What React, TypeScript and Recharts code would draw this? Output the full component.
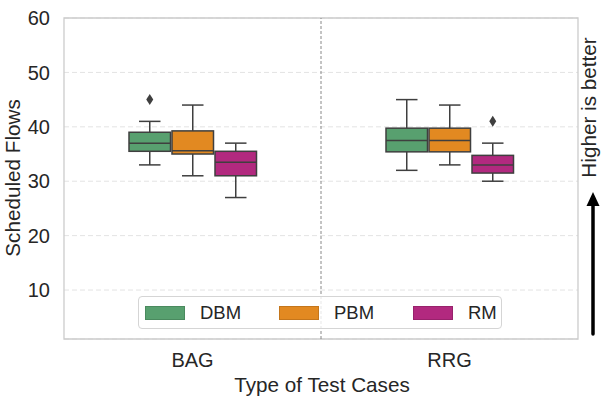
import React from 'react';
import {
  ComposedChart,
  Bar,
  XAxis,
  YAxis,
  CartesianGrid,
  ReferenceLine,
  ReferenceArea,
} from 'recharts';

const categories = ['BAG', 'RRG'];
const seriesNames = ['DBM', 'PBM', 'RM'];
const seriesColors = ['#58a06f', '#e28921', '#b2297f'];
const seriesEdges = ['#4a8a5e', '#c4761c', '#98226c'];
const yTicks = [10, 20, 30, 40, 50, 60];

// box statistics per category (BAG, RRG)
const dbmLow = [33, 32];
const dbmQ1 = [35.5, 35.4];
const dbmMed = [37, 37.5];
const dbmQ3 = [39, 39.75];
const dbmHigh = [41, 45];
const dbmOut = [[45], []];

const pbmLow = [31, 33];
const pbmQ1 = [35, 35.4];
const pbmMed = [35.6, 37.5];
const pbmQ3 = [39.25, 39.75];
const pbmHigh = [44, 44];
const pbmOut = [[], []];

const rmLow = [27, 30];
const rmQ1 = [31, 31.5];
const rmMed = [33.5, 33];
const rmQ3 = [35.5, 34.75];
const rmHigh = [37, 37];
const rmOut = [[], [41]];

const stats = {
  DBM: { lo: dbmLow, q1: dbmQ1, med: dbmMed, q3: dbmQ3, hi: dbmHigh, out: dbmOut },
  PBM: { lo: pbmLow, q1: pbmQ1, med: pbmMed, q3: pbmQ3, hi: pbmHigh, out: pbmOut },
  RM: { lo: rmLow, q1: rmQ1, med: rmMed, q3: rmQ3, hi: rmHigh, out: rmOut },
};

const rows = categories.map((cat, i) => {
  const row: any = { cat, pos: i + 0.5 };
  seriesNames.forEach((n) => {
    const s = (stats as any)[n];
    row[n] = { lo: s.lo[i], q1: s.q1[i], med: s.med[i], q3: s.q3[i], hi: s.hi[i], out: s.out[i] };
  });
  return row;
});

const EDGE = '#3f3f3f';
const FONT = '"Liberation Sans", Arial, Helvetica, sans-serif';
const TEXT = '#262626';

function makeBoxShape(name: string) {
  return (props: any) => {
    const { x, y, width, height, payload, fill } = props;
    const s = payload[name];
    const top = Math.min(y, y + height);
    const bot = Math.max(y, y + height);
    const py = (v: number) => bot - ((v - s.lo) / (s.hi - s.lo)) * (bot - top);
    const cx = x + width / 2;
    const cap = width / 4;
    return (
      <g>
        <line x1={cx} x2={cx} y1={py(s.hi)} y2={py(s.q3)} stroke={EDGE} strokeWidth={1.5} />
        <line x1={cx} x2={cx} y1={py(s.q1)} y2={py(s.lo)} stroke={EDGE} strokeWidth={1.5} />
        <line x1={cx - cap} x2={cx + cap} y1={py(s.hi)} y2={py(s.hi)} stroke={EDGE} strokeWidth={1.5} />
        <line x1={cx - cap} x2={cx + cap} y1={py(s.lo)} y2={py(s.lo)} stroke={EDGE} strokeWidth={1.5} />
        <rect
          x={x + 0.75}
          y={py(s.q3)}
          width={width - 1.5}
          height={py(s.q1) - py(s.q3)}
          fill={fill}
          stroke={EDGE}
          strokeWidth={1.5}
        />
        <line x1={x + 0.75} x2={x + width - 0.75} y1={py(s.med)} y2={py(s.med)} stroke={EDGE} strokeWidth={1.5} />
        {s.out.map((o: number, k: number) => {
          const oy = py(o);
          return (
            <path
              key={k}
              d={`M${cx},${oy - 5.5} L${cx + 3.5},${oy} L${cx},${oy + 5.5} L${cx - 3.5},${oy} Z`}
              fill={EDGE}
            />
          );
        })}
      </g>
    );
  };
}

export default function App() {
  return (
    <div
      style={{
        position: 'absolute',
        left: 0,
        top: 0,
        width: 603,
        height: 408,
        fontFamily: FONT,
        background: '#fff',
      }}
    >
      <ComposedChart
        width={603}
        height={408}
        data={rows}
        margin={{ top: 18, right: 25, left: 0, bottom: 29 }}
        barCategoryGap="25%"
        barGap={0}
      >
        <CartesianGrid horizontal vertical={false} stroke="#e3e3e3" strokeDasharray="5 3" />
        <XAxis
          dataKey="cat"
          height={40}
          axisLine={false}
          tickLine={false}
          tickSize={0}
          tickMargin={14}
          tick={{ fontSize: 20, fill: TEXT, fontFamily: FONT }}
        />
        <XAxis
          xAxisId="n"
          dataKey="pos"
          type="number"
          domain={[0, 2]}
          allowDataOverflow
          hide
        />
        <YAxis
          type="number"
          domain={[1, 60]}
          ticks={yTicks}
          width={64}
          axisLine={false}
          tickLine={false}
          tickSize={0}
          tickMargin={14}
          allowDataOverflow
          tick={{ fontSize: 20, fill: TEXT, fontFamily: FONT }}
        />
        <ReferenceArea
          xAxisId="n"
          x1={0}
          x2={2}
          y1={1}
          y2={60}
          fill="none"
          stroke="#cccccc"
          strokeWidth={1.3}
          ifOverflow="visible"
        />
        <ReferenceLine xAxisId="n" x={1} stroke="#888888" strokeDasharray="3 2" strokeWidth={1} />
        {seriesNames.map((n, i) => (
          <Bar
            key={n}
            dataKey={(d: any) => [d[n].lo, d[n].hi]}
            fill={seriesColors[i]}
            shape={makeBoxShape(n)}
            isAnimationActive={false}
          />
        ))}
      </ComposedChart>

      <svg
        width={603}
        height={408}
        style={{ position: 'absolute', left: 0, top: 0, pointerEvents: 'none' }}
      >
        <text
          x={12}
          y={178}
          transform="rotate(-90, 12, 178)"
          textAnchor="middle"
          dominantBaseline="central"
          fontSize={20.7}
          fill={TEXT}
          fontFamily={FONT}
        >
          Scheduled Flows
        </text>
        <text x={322} y={392} textAnchor="middle" fontSize={20.7} fill={TEXT} fontFamily={FONT}>
          Type of Test Cases
        </text>
        <text
          x={588}
          y={107.5}
          transform="rotate(-90, 588, 107.5)"
          textAnchor="middle"
          dominantBaseline="central"
          fontSize={20.7}
          fill={TEXT}
          fontFamily={FONT}
        >
          Higher is better
        </text>
        <line x1={593} x2={593} y1={334} y2={203} stroke="#000" strokeWidth={3.5} strokeLinecap="round" />
        <polygon points="593,192 586.5,206 599.5,206" fill="#000" />
      </svg>

      <div
        style={{
          position: 'absolute',
          left: 138,
          top: 296,
          width: 364,
          height: 33,
          boxSizing: 'border-box',
          border: '1px solid #d5d5d5',
          borderRadius: 4,
          background: 'rgba(255,255,255,0.8)',
          display: 'flex',
          alignItems: 'center',
          paddingLeft: 6,
        }}
      >
        {seriesNames.map((n, i) => (
          <div
            key={n}
            style={{
              display: 'flex',
              alignItems: 'center',
              width: i < seriesNames.length - 1 ? 134 : 'auto',
              flexShrink: 0,
            }}
          >
            <div
              style={{
                width: 40,
                height: 14,
                boxSizing: 'border-box',
                background: seriesColors[i],
                border: `1px solid ${seriesEdges[i]}`,
                marginRight: 15,
              }}
            />
            <span style={{ fontSize: 18.5, color: TEXT, fontFamily: FONT, lineHeight: '18px' }}>{n}</span>
          </div>
        ))}
      </div>
    </div>
  );
}
